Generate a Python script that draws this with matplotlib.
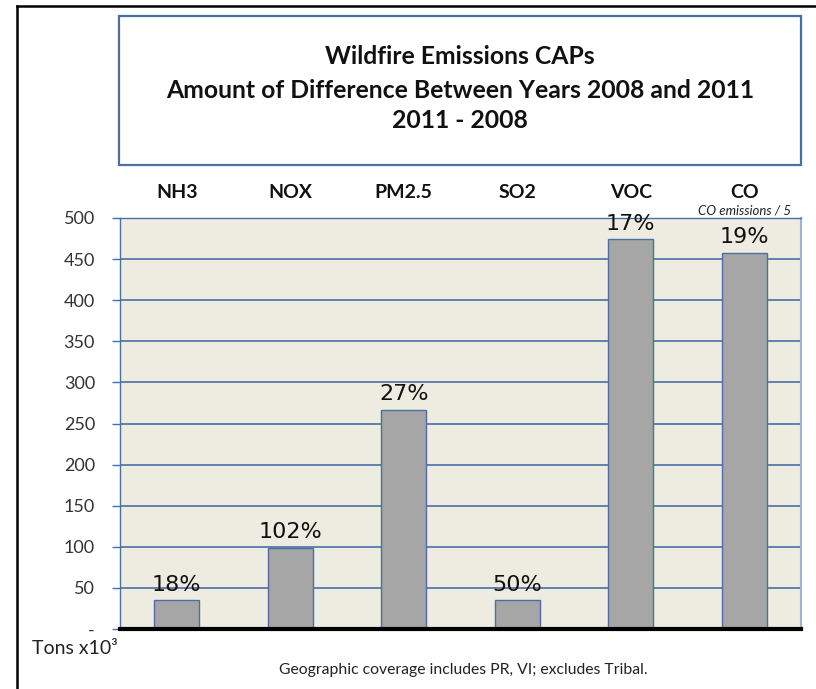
import matplotlib.pyplot as plt
from matplotlib.patches import Rectangle

# data
pollutants = ['NH3', 'NOX', 'PM2.5', 'SO2', 'VOC', 'CO']
difference = [35, 99, 267, 35, 474, 458]
pct_labels = ['18%', '102%', '27%', '50%', '17%', '19%']
y_ticks = [0, 50, 100, 150, 200, 250, 300, 350, 400, 450, 500]
y_tick_labels = ['-', '50', '100', '150', '200', '250', '300', '350', '400', '450', '500']

W, H = 816, 689
fig = plt.figure(figsize=(W / 100, H / 100), dpi=100)

blue = '#4A6FA5'
font = 'Lato'

# outer border (left and top only)
fig.add_artist(plt.Line2D([17 / W, 17 / W], [0, 1 - 6 / H], color='black', lw=1.8,
                          transform=fig.transFigure))
fig.add_artist(plt.Line2D([17 / W, 1], [1 - 6 / H, 1 - 6 / H], color='black', lw=1.8,
                          transform=fig.transFigure))

# title box
fig.add_artist(Rectangle((119 / W, 1 - 165 / H), (801 - 119) / W, (165 - 16) / H,
                         transform=fig.transFigure, fill=False, edgecolor=blue, lw=1.6))
titles = ['Wildfire Emissions CAPs',
          'Amount of Difference Between Years 2008 and 2011',
          '2011 - 2008']
for t, yy in zip(titles, [57, 90, 121]):
    fig.text(460 / W, 1 - yy / H, t, ha='center', va='center', fontsize=17.8,
             fontweight='bold', family=font, color='#111111')

# chart
ax = fig.add_axes([120 / W, 1 - 629 / H, (801 - 120) / W, (629 - 218) / H])
ax.set_facecolor('#EEECE1')
x = range(len(pollutants))
ax.bar(x, difference, width=0.4, color='#A6A6A6', edgecolor=blue, linewidth=1, zorder=3)
ax.set_xlim(-0.5, len(pollutants) - 0.5)
ax.set_ylim(0, 500)
ax.set_yticks(y_ticks)
ax.set_yticklabels(y_tick_labels, fontsize=13, family=font, color='#333333')
ax.yaxis.grid(True, color=blue, lw=1.2, zorder=1)
ax.set_axisbelow(True)
ax.set_xticks([])
ax.tick_params(axis='y', direction='out', length=6, width=1, color=blue, pad=12)

for s in ['left', 'top']:
    ax.spines[s].set_color(blue)
    ax.spines[s].set_linewidth(1)
ax.spines['right'].set_color('#9FB3D0')
ax.spines['right'].set_linewidth(1.5)
ax.spines['bottom'].set_color('black')
ax.spines['bottom'].set_linewidth(3)
ax.spines['bottom'].set_zorder(5)

for i, (v, lab) in enumerate(zip(difference, pct_labels)):
    ax.annotate(lab, (i, v), xytext=(0, 4), textcoords='offset points', ha='center',
                va='bottom', fontsize=16, family='DejaVu Sans', color='#111111', zorder=4)

# category names above plot
for i, p in enumerate(pollutants):
    ax.annotate(p, (i, 500), xytext=(0, 18.5), textcoords='offset points',
                ha='center', va='center', fontsize=14, fontweight='bold', family=font,
                color='#111111', annotation_clip=False)
ax.annotate('CO emissions / 5', (5, 500), xytext=(0, 5.5), textcoords='offset points',
            ha='center', va='center', fontsize=9.5, style='italic', family=font,
            color='#222222', annotation_clip=False)

fig.text(32 / W, 1 - 649 / H, 'Tons x10³', ha='left', va='center', fontsize=14,
         family=font, color='#222222')
fig.text(463 / W, 1 - 670 / H, 'Geographic coverage includes PR, VI; excludes Tribal.',
         ha='center', va='center', fontsize=11.3, family=font, color='#222222')

fig.savefig('out.png', dpi=100)
